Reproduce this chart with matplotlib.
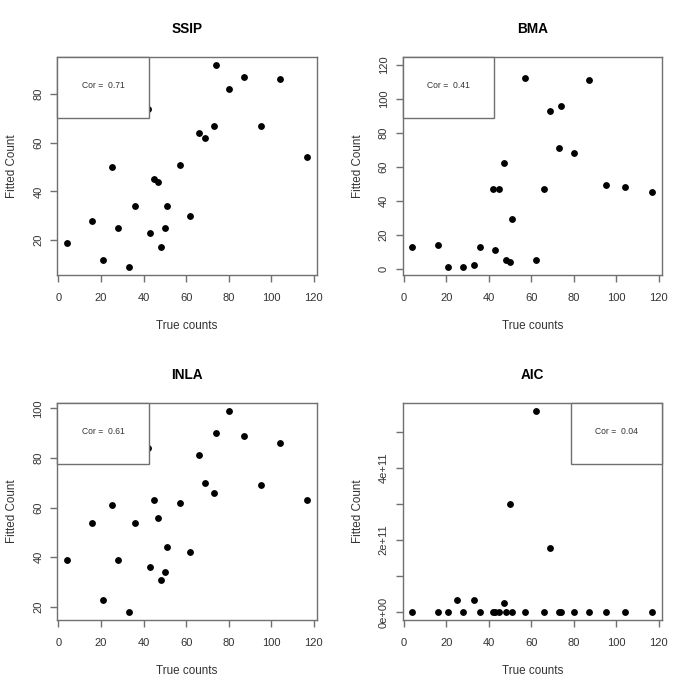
import matplotlib
matplotlib.use("Agg")
import matplotlib.pyplot as plt
from matplotlib.patches import Rectangle
from matplotlib.ticker import FixedLocator, FuncFormatter

plt.rcParams['font.family'] = ['Liberation Sans', 'DejaVu Sans']

true_counts = [4, 16, 21, 25, 28, 33, 36, 42, 43, 45, 47, 48, 50, 51, 57, 62, 66, 69, 73, 74, 80, 87, 95, 104, 117]
ssip = [19, 28, 12, 50, 25, 9, 34, 74, 23, 45, 44, 17, 25, 34, 51, 30, 64, 62, 67, 92, 82, 87, 67, 86, 54]
bma = [13, 14, 1, 120, 1, 2, 13, 47, 11, 47, 62, 5, 4, 29, 112, 5, 47, 93, 71, 96, 68, 111, 49, 48, 45]
inla = [39, 54, 23, 61, 39, 18, 54, 84, 36, 63, 56, 31, 34, 44, 62, 42, 81, 70, 66, 90, 99, 89, 69, 86, 63]
aic = [0, 0, 0, 3.3e10, 0, 3.3e10, 0, 0, 0, 0, 2.6e10, 0, 3.0e11, 0, 0, 5.58e11, 0, 1.76e11, 0, 0, 0, 0, 0, 0, 0]

titles = ["SSIP", "BMA", "INLA", "AIC"]
series = [ssip, bma, inla, aic]
cor_labels = ["Cor =  0.71", "Cor =  0.41", "Cor =  0.61", "Cor =  0.04"]
legend_pos = ["topleft", "topleft", "topleft", "topright"]
x_ticks = [0, 20, 40, 60, 80, 100, 120]
y_ticks = [[20, 40, 60, 80], [0, 20, 40, 60, 80, 100, 120], [20, 40, 60, 80, 100],
           [0, 1e11, 2e11, 3e11, 4e11, 5e11]]
aic_labels = {0: "0e+00", 2e11: "2e+11", 4e11: "4e+11"}

W = 692
fig = plt.figure(figsize=(6.92, 6.92), dpi=100)

positions = [
    (57.3, 56.7, 317.0, 275.0),
    (402.7, 56.7, 662.0, 275.0),
    (57.3, 402.7, 317.0, 620.0),
    (402.7, 402.7, 662.0, 620.0),
]

spine_col = '#707070'
text_col = '#333333'

def rpad(lo, hi):
    d = hi - lo
    return lo - 0.04 * d, hi + 0.04 * d

for i in range(4):
    l, t, r, b = positions[i]
    ax = fig.add_axes([l / W, 1 - b / W, (r - l) / W, (b - t) / W])
    ys = series[i]
    ax.plot(true_counts, ys, 'o', color='black', markersize=3.9, linestyle='none', zorder=2)
    ax.set_xlim(*rpad(min(true_counts), max(true_counts)))
    ax.set_ylim(*rpad(min(ys), max(ys)))
    ax.xaxis.set_major_locator(FixedLocator(x_ticks))
    ax.yaxis.set_major_locator(FixedLocator(y_ticks[i]))
    if i == 3:
        ax.yaxis.set_major_formatter(FuncFormatter(lambda v, p: aic_labels.get(v, "")))
    else:
        ax.yaxis.set_major_formatter(FuncFormatter(lambda v, p: "%d" % v))
    for s in ax.spines.values():
        s.set_color(spine_col)
        s.set_linewidth(1.0)
    ax.tick_params(axis='both', direction='out', length=5, width=1.0, color=spine_col,
                   labelsize=8.0, labelcolor=text_col)
    ax.tick_params(axis='x', pad=8)
    ax.tick_params(axis='y', pad=5)
    for lab in ax.get_yticklabels():
        lab.set_rotation(90)
        lab.set_va('center')
    ax.set_title(titles[i], fontsize=9.8, fontweight='bold', pad=17, color='black')
    ax.set_xlabel("True counts", fontsize=8.4, color=text_col, labelpad=12)
    ax.set_ylabel("Fitted Count", fontsize=8.4, color=text_col, labelpad=11)
    bw, bh = 0.352, 0.282
    bx = 0.0 if legend_pos[i] == "topleft" else 1 - bw
    rect = Rectangle((bx, 1 - bh), bw, bh, transform=ax.transAxes, facecolor='white',
                     edgecolor=spine_col, linewidth=1.0, zorder=3, clip_on=False)
    ax.add_patch(rect)
    ax.text(bx + bw / 2, 1 - bh / 2 + 0.01, cor_labels[i], transform=ax.transAxes,
            ha='center', va='center', fontsize=6.2, color='#333333', zorder=4)

fig.savefig("out.png", dpi=100)
